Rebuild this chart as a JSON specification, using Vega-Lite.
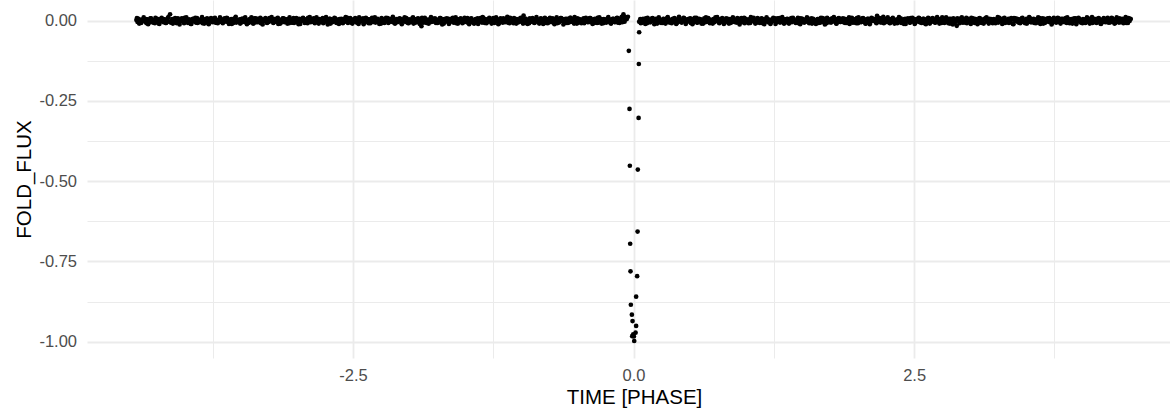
{
  "$schema": "https://vega.github.io/schema/vega-lite/v6.json",
  "width": 1083,
  "height": 358,
  "autosize": {"type": "none"},
  "padding": {"left": 87, "top": 0, "right": 0, "bottom": 52},
  "background": "white",
  "data": {
    "format": {"type": "csv", "parse": {"t": "number", "f": "number"}},
    "values": "t,f\n-4.43,0.002\n-4.42,-0.004\n-4.41,0.006\n-4.4,-0.001\n-4.39,-0.007\n-4.38,0.003\n-4.37,0\n-4.36,0.005\n-4.35,-0.003\n-4.34,-0.008\n-4.33,0.004\n-4.32,0.001\n-4.31,-0.005\n-4.3,0.007\n-4.29,-0.002\n-4.28,-0.006\n-4.27,0.002\n-4.26,0.009\n-4.25,-0.004\n-4.24,0\n-4.23,-0.009\n-4.22,0.003\n-4.21,0.006\n-4.2,-0.001\n-4.19,-0.005\n-4.18,0.004\n-4.17,-0.007\n-4.16,0.001\n-4.15,0.008\n-4.14,-0.003\n-4.13,0.02\n-4.12,-0.002\n-4.11,0.005\n-4.1,-0.006\n-4.09,0\n-4.08,0.003\n-4.07,-0.008\n-4.06,0.007\n-4.05,-0.004\n-4.04,0.002\n-4.03,-0.001\n-4.02,0.006\n-4.01,-0.005\n-4,0.009\n-3.99,-0.003\n-3.98,0.001\n-3.97,-0.007\n-3.96,0.004\n-3.95,0\n-3.94,-0.01\n-3.93,0.005\n-3.92,-0.002\n-3.91,0.003\n-3.9,-0.006\n-3.89,0.008\n-3.88,-0.001\n-3.87,-0.004\n-3.86,0.002\n-3.85,0.006\n-3.84,-0.008\n-3.83,0\n-3.82,0.004\n-3.81,-0.003\n-3.8,0.007\n-3.79,-0.009\n-3.78,0.001\n-3.77,0.005\n-3.76,-0.002\n-3.75,-0.005\n-3.74,0.003\n-3.73,0.009\n-3.72,-0.006\n-3.71,0\n-3.7,0.002\n-3.69,-0.004\n-3.68,0.006\n-3.67,-0.001\n-3.66,-0.008\n-3.65,0.004\n-3.64,0.001\n-3.63,-0.003\n-3.62,0.007\n-3.61,-0.005\n-3.6,0\n-3.59,0.003\n-3.58,-0.01\n-3.57,0.005\n-3.56,-0.002\n-3.55,0.008\n-3.54,-0.006\n-3.53,0.002\n-3.52,-0.001\n-3.51,0.004\n-3.5,-0.007\n-3.49,0.006\n-3.48,0\n-3.47,-0.004\n-3.46,0.01\n-3.45,-0.003\n-3.44,0.001\n-3.43,-0.006\n-3.42,0.005\n-3.41,-0.002\n-3.4,0.003\n-3.39,-0.009\n-3.38,0.007\n-3.37,0\n-3.36,-0.005\n-3.35,0.002\n-3.34,0.006\n-3.33,-0.003\n-3.32,-0.008\n-3.31,0.004\n-3.3,0.001\n-3.29,-0.001\n-3.28,0.008\n-3.27,-0.006\n-3.26,0.003\n-3.25,-0.004\n-3.24,0\n-3.23,0.006\n-3.22,-0.002\n-3.21,-0.007\n-3.2,0.005\n-3.19,0.001\n-3.18,-0.004\n-3.17,0.009\n-3.16,-0.001\n-3.15,-0.009\n-3.14,0.003\n-3.13,0\n-3.12,0.007\n-3.11,-0.005\n-3.1,0.002\n-3.09,-0.003\n-3.08,0.005\n-3.07,-0.008\n-3.06,0.004\n-3.05,0.001\n-3.04,-0.006\n-3.03,0.008\n-3.02,-0.002\n-3.01,0.003\n-3,-0.004\n-2.99,0\n-2.98,0.006\n-2.97,-0.01\n-2.96,0.002\n-2.95,0.005\n-2.94,-0.001\n-2.93,-0.007\n-2.92,0.004\n-2.91,-0.003\n-2.9,0.009\n-2.89,0.001\n-2.88,-0.005\n-2.87,0.002\n-2.86,-0.002\n-2.85,0.007\n-2.84,-0.008\n-2.83,0.003\n-2.82,0\n-2.81,-0.006\n-2.8,0.005\n-2.79,-0.001\n-2.78,-0.004\n-2.77,0.008\n-2.76,-0.003\n-2.75,0.002\n-2.74,0.011\n-2.73,-0.005\n-2.72,0.001\n-2.71,0.006\n-2.7,-0.009\n-2.69,0.004\n-2.68,-0.002\n-2.67,0\n-2.66,0.007\n-2.65,-0.006\n-2.64,0.003\n-2.63,-0.001\n-2.62,0.005\n-2.61,-0.004\n-2.6,0.002\n-2.59,-0.008\n-2.58,0.006\n-2.57,0.001\n-2.56,-0.003\n-2.55,0.009\n-2.54,-0.005\n-2.53,0\n-2.52,0.004\n-2.51,-0.007\n-2.5,0.003\n-2.49,-0.002\n-2.48,0.008\n-2.47,-0.005\n-2.46,0.001\n-2.45,-0.01\n-2.44,0.006\n-2.43,-0.003\n-2.42,0.002\n-2.41,0.007\n-2.4,-0.006\n-2.39,0\n-2.38,-0.001\n-2.37,0.005\n-2.36,-0.008\n-2.35,0.004\n-2.34,-0.002\n-2.33,0.009\n-2.32,-0.004\n-2.31,0.001\n-2.3,-0.006\n-2.29,0.003\n-2.28,0.006\n-2.27,-0.003\n-2.26,0\n-2.25,-0.009\n-2.24,0.005\n-2.23,0.002\n-2.22,-0.007\n-2.21,0.004\n-2.2,-0.001\n-2.19,0.008\n-2.18,-0.005\n-2.17,-0.002\n-2.16,0.003\n-2.15,-0.004\n-2.14,0.007\n-2.13,-0.008\n-2.12,0.001\n-2.11,0.005\n-2.1,-0.003\n-2.09,0\n-2.08,0.006\n-2.07,-0.006\n-2.06,0.002\n-2.05,-0.001\n-2.04,0.01\n-2.03,-0.004\n-2.02,0.003\n-2.01,-0.007\n-2,0.004\n-1.99,0.001\n-1.98,-0.002\n-1.97,0.008\n-1.96,-0.009\n-1.95,0.005\n-1.94,0\n-1.93,-0.005\n-1.92,0.007\n-1.91,0.002\n-1.9,-0.003\n-1.89,-0.017\n-1.88,0.004\n-1.87,-0.006\n-1.86,0.009\n-1.85,-0.001\n-1.84,0.003\n-1.83,-0.008\n-1.82,0\n-1.81,0.006\n-1.8,-0.004\n-1.79,0.002\n-1.78,-0.002\n-1.77,0.007\n-1.76,-0.007\n-1.75,0.003\n-1.74,0.001\n-1.73,-0.005\n-1.72,0.008\n-1.71,-0.001\n-1.7,0.004\n-1.69,-0.009\n-1.68,0.005\n-1.67,0\n-1.66,-0.003\n-1.65,0.006\n-1.64,-0.006\n-1.63,0.002\n-1.62,-0.002\n-1.61,0.009\n-1.6,-0.005\n-1.59,0.001\n-1.58,-0.008\n-1.57,0.004\n-1.56,0.003\n-1.55,-0.004\n-1.54,0.007\n-1.53,-0.001\n-1.52,-0.006\n-1.51,0.005\n-1.5,0\n-1.49,-0.003\n-1.48,0.008\n-1.47,-0.007\n-1.46,0.002\n-1.45,0.006\n-1.44,-0.004\n-1.43,0.001\n-1.42,-0.009\n-1.41,0.004\n-1.4,-0.002\n-1.39,0.007\n-1.38,-0.005\n-1.37,0.003\n-1.36,0\n-1.35,-0.006\n-1.34,0.009\n-1.33,-0.003\n-1.32,0.005\n-1.31,-0.008\n-1.3,0.001\n-1.29,0.006\n-1.28,-0.001\n-1.27,-0.004\n-1.26,0.002\n-1.25,0.008\n-1.24,-0.007\n-1.23,0\n-1.22,0.004\n-1.21,-0.002\n-1.2,-0.009\n-1.19,0.005\n-1.18,0.003\n-1.17,-0.005\n-1.16,0.007\n-1.15,-0.001\n-1.14,-0.003\n-1.13,0.006\n-1.12,-0.006\n-1.11,0.002\n-1.1,0.009\n-1.09,-0.004\n-1.08,0.001\n-1.07,-0.008\n-1.06,0.004\n-1.05,-0.002\n-1.04,0.005\n-1.03,-0.005\n-1.02,0\n-1.01,0.007\n-1,-0.003\n-0.99,0.003\n-0.98,0.016\n-0.97,-0.007\n-0.96,0.006\n-0.95,-0.001\n-0.94,0.002\n-0.93,-0.008\n-0.92,0.004\n-0.91,-0.003\n-0.9,0.008\n-0.89,0.001\n-0.88,-0.006\n-0.87,0.005\n-0.86,-0.002\n-0.85,0\n-0.84,-0.009\n-0.83,0.006\n-0.82,-0.004\n-0.81,0.003\n-0.8,-0.001\n-0.79,0.009\n-0.78,-0.007\n-0.77,0.002\n-0.76,0.005\n-0.75,-0.005\n-0.74,0\n-0.73,-0.002\n-0.72,0.007\n-0.71,-0.006\n-0.7,0.004\n-0.69,0.001\n-0.68,-0.008\n-0.67,0.003\n-0.66,-0.003\n-0.65,0.008\n-0.64,-0.001\n-0.63,0.005\n-0.62,-0.004\n-0.61,0\n-0.6,-0.007\n-0.59,0.006\n-0.58,0.002\n-0.57,-0.005\n-0.56,0.009\n-0.55,-0.002\n-0.54,0.004\n-0.53,-0.009\n-0.52,0.001\n-0.51,-0.003\n-0.5,0.007\n-0.49,-0.006\n-0.48,0.003\n-0.47,0\n-0.46,-0.001\n-0.45,0.005\n-0.44,-0.008\n-0.43,0.002\n-0.42,0.006\n-0.41,-0.004\n-0.4,-0.002\n-0.39,0.008\n-0.38,-0.005\n-0.37,0.004\n-0.36,0.001\n-0.35,-0.007\n-0.34,0.003\n-0.33,-0.001\n-0.32,0.009\n-0.31,-0.006\n-0.3,0\n-0.29,0.005\n-0.28,-0.003\n-0.27,-0.008\n-0.26,0.004\n-0.25,0.002\n-0.24,-0.005\n-0.23,0.007\n-0.22,-0.002\n-0.21,0.003\n-0.2,-0.009\n-0.19,0.001\n-0.18,0.006\n-0.17,-0.004\n-0.16,0\n-0.15,0.008\n-0.14,-0.006\n-0.13,0.004\n-0.12,-0.001\n-0.11,0.008\n-0.1,-0.005\n-0.09,0.02\n-0.08,-0.003\n-0.07,0.01\n-0.06,0.005\n-0.05,0.012\n-0.042,-0.094\n-0.036,-0.275\n-0.033,-0.452\n-0.03,-0.695\n-0.027,-0.781\n-0.024,-0.885\n-0.015,-0.916\n-0.012,-0.983\n-0.009,-0.936\n-0.003,-0.977\n0.003,-0.984\n0.006,-0.998\n0.018,-0.972\n0.023,-0.951\n0.023,-0.86\n0.032,-0.796\n0.036,-0.657\n0.038,-0.464\n0.045,-0.303\n0.047,-0.135\n0.05,-0.036\n0.05,-0.003\n0.06,0.005\n0.07,0.001\n0.08,-0.006\n0.09,0.004\n0.1,-0.002\n0.11,0.007\n0.12,-0.008\n0.13,0\n0.14,0.003\n0.15,-0.005\n0.16,0.002\n0.17,0.008\n0.18,-0.001\n0.19,-0.004\n0.2,0.006\n0.21,-0.009\n0.22,0.001\n0.23,0.004\n0.24,-0.003\n0.25,0\n0.26,-0.007\n0.27,0.005\n0.28,0.002\n0.29,-0.002\n0.3,0.009\n0.31,-0.005\n0.32,0.003\n0.33,-0.001\n0.34,-0.008\n0.35,0.006\n0.36,-0.004\n0.37,0.001\n0.38,-0.01\n0.39,0.004\n0.4,0\n0.41,0.007\n0.42,-0.003\n0.43,-0.006\n0.44,0.002\n0.45,0.008\n0.46,-0.001\n0.47,-0.005\n0.48,0.003\n0.49,-0.002\n0.5,0.006\n0.51,-0.007\n0.52,0\n0.53,0.005\n0.54,-0.004\n0.55,0.001\n0.56,0.009\n0.57,-0.006\n0.58,0.002\n0.59,-0.003\n0.6,0.004\n0.61,-0.001\n0.62,-0.009\n0.63,0.007\n0.64,0\n0.65,-0.004\n0.66,0.003\n0.67,0.006\n0.68,-0.008\n0.69,0.001\n0.7,-0.002\n0.71,0.005\n0.72,-0.005\n0.73,0.01\n0.74,-0.001\n0.75,0.002\n0.76,-0.006\n0.77,0.004\n0.78,-0.003\n0.79,0.008\n0.8,0\n0.81,-0.007\n0.82,0.003\n0.83,-0.002\n0.84,0.006\n0.85,-0.009\n0.86,0.005\n0.87,0.001\n0.88,-0.004\n0.89,0.007\n0.9,-0.001\n0.91,0.002\n0.92,-0.006\n0.93,0\n0.94,0.004\n0.95,-0.003\n0.96,0.008\n0.97,-0.005\n0.98,0.002\n0.99,-0.008\n1,0.006\n1.01,0\n1.02,-0.002\n1.03,0.004\n1.04,-0.007\n1.05,0.003\n1.06,-0.001\n1.07,0.009\n1.08,-0.004\n1.09,0.001\n1.1,-0.006\n1.11,0.005\n1.12,0.002\n1.13,-0.003\n1.14,0.007\n1.15,-0.008\n1.16,0\n1.17,0.004\n1.18,-0.002\n1.19,0.006\n1.2,-0.005\n1.21,0.003\n1.22,-0.01\n1.23,0.001\n1.24,0.005\n1.25,-0.001\n1.26,0.007\n1.27,-0.006\n1.28,0.002\n1.29,-0.003\n1.3,0.008\n1.31,0\n1.32,-0.004\n1.33,0.005\n1.34,-0.009\n1.35,0.004\n1.36,-0.002\n1.37,0.006\n1.38,-0.007\n1.39,0.001\n1.4,0.003\n1.41,-0.005\n1.42,0.009\n1.43,-0.001\n1.44,-0.003\n1.45,0\n1.46,0.005\n1.47,-0.008\n1.48,0.002\n1.49,0.007\n1.5,-0.004\n1.51,0.001\n1.52,-0.006\n1.53,0.003\n1.54,-0.002\n1.55,0.008\n1.56,-0.005\n1.57,0\n1.58,0.004\n1.59,-0.009\n1.6,0.006\n1.61,-0.001\n1.62,0.002\n1.63,-0.003\n1.64,0.005\n1.65,-0.007\n1.66,0.001\n1.67,0.009\n1.68,-0.004\n1.69,0.003\n1.7,-0.002\n1.71,0.006\n1.72,-0.008\n1.73,0\n1.74,0.004\n1.75,-0.001\n1.76,-0.006\n1.77,0.007\n1.78,0.002\n1.79,-0.003\n1.8,0.005\n1.81,-0.009\n1.82,0.001\n1.83,0.008\n1.84,-0.004\n1.85,0.003\n1.86,0\n1.87,-0.005\n1.88,0.006\n1.89,-0.002\n1.9,-0.007\n1.91,0.004\n1.92,0.01\n1.93,-0.003\n1.94,0.001\n1.95,-0.006\n1.96,0.005\n1.97,0.002\n1.98,-0.001\n1.99,0.008\n2,-0.008\n2.01,0.003\n2.02,0\n2.03,-0.004\n2.04,0.007\n2.05,-0.002\n2.06,0.004\n2.07,-0.009\n2.08,0.001\n2.09,0.006\n2.1,-0.003\n2.11,-0.005\n2.12,0.009\n2.13,0.002\n2.14,-0.001\n2.15,0.005\n2.16,-0.006\n2.17,0.015\n2.18,0\n2.19,-0.004\n2.2,0.007\n2.21,-0.002\n2.22,0.003\n2.23,-0.008\n2.24,0.001\n2.25,0.006\n2.26,-0.003\n2.27,0.002\n2.28,-0.007\n2.29,0.004\n2.3,-0.001\n2.31,0.009\n2.32,-0.005\n2.33,0\n2.34,0.003\n2.35,-0.008\n2.36,0.005\n2.37,-0.002\n2.38,0.007\n2.39,0.001\n2.4,-0.004\n2.41,-0.01\n2.42,0.006\n2.43,-0.001\n2.44,0.002\n2.45,0.004\n2.46,-0.006\n2.47,0.008\n2.48,-0.003\n2.49,0\n2.5,0.005\n2.51,-0.007\n2.52,0.001\n2.53,-0.002\n2.54,0.009\n2.55,-0.005\n2.56,0.003\n2.57,-0.001\n2.58,0.006\n2.59,-0.008\n2.6,0.002\n2.61,0.004\n2.62,-0.004\n2.63,0.007\n2.64,-0.009\n2.65,0\n2.66,0.006\n2.67,-0.003\n2.68,0.001\n2.69,-0.006\n2.7,0.008\n2.71,-0.002\n2.72,0.005\n2.73,-0.005\n2.74,0.003\n2.75,0.01\n2.76,-0.001\n2.77,-0.007\n2.78,0.004\n2.79,0.002\n2.8,-0.004\n2.81,0.006\n2.82,-0.009\n2.83,0.001\n2.84,-0.002\n2.85,0.007\n2.86,-0.005\n2.87,0.003\n2.88,-0.016\n2.89,0\n2.9,0.005\n2.91,-0.003\n2.92,0.008\n2.93,-0.006\n2.94,0.002\n2.95,-0.001\n2.96,0.004\n2.97,-0.008\n2.98,0.006\n2.99,0.001\n3,-0.003\n3.01,0.009\n3.02,-0.004\n3.03,0.002\n3.04,-0.007\n3.05,0.005\n3.06,0\n3.07,-0.002\n3.08,0.007\n3.09,-0.006\n3.1,0.003\n3.11,-0.001\n3.12,-0.009\n3.13,0.004\n3.14,0.008\n3.15,-0.003\n3.16,0.002\n3.17,0.006\n3.18,-0.005\n3.19,0.001\n3.2,-0.008\n3.21,0.005\n3.22,-0.002\n3.23,0\n3.24,0.004\n3.25,-0.006\n3.26,0.009\n3.27,-0.001\n3.28,0.003\n3.29,-0.004\n3.3,0.007\n3.31,-0.007\n3.32,0.002\n3.33,-0.003\n3.34,0.006\n3.35,0.001\n3.36,-0.005\n3.37,0.004\n3.38,-0.01\n3.39,0.008\n3.4,0\n3.41,-0.002\n3.42,0.005\n3.43,-0.006\n3.44,0.003\n3.45,-0.001\n3.46,0.007\n3.47,-0.004\n3.48,0.002\n3.49,-0.008\n3.5,0.006\n3.51,0.001\n3.52,-0.003\n3.53,0.009\n3.54,-0.005\n3.55,0\n3.56,0.004\n3.57,-0.007\n3.58,0.003\n3.59,-0.002\n3.6,0.005\n3.61,-0.006\n3.62,0.008\n3.63,-0.001\n3.64,0.002\n3.65,-0.009\n3.66,0.006\n3.67,-0.003\n3.68,0.001\n3.69,0.007\n3.7,-0.004\n3.71,0\n3.72,0.004\n3.73,-0.008\n3.74,0.005\n3.75,-0.002\n3.76,0.003\n3.77,-0.005\n3.78,0.009\n3.79,-0.001\n3.8,-0.006\n3.81,0.006\n3.82,0.002\n3.83,-0.004\n3.84,0.001\n3.85,0.008\n3.86,-0.007\n3.87,0\n3.88,0.004\n3.89,-0.003\n3.9,0.005\n3.91,-0.009\n3.92,0.003\n3.93,-0.001\n3.94,0.007\n3.95,-0.005\n3.96,0.002\n3.97,0.006\n3.98,-0.002\n3.99,0.001\n4,-0.008\n4.01,0.004\n4.02,0\n4.03,-0.006\n4.04,0.01\n4.05,-0.003\n4.06,0.005\n4.07,-0.001\n4.08,0.007\n4.09,-0.007\n4.1,0.003\n4.11,-0.004\n4.12,0.001\n4.13,0.006\n4.14,-0.002\n4.15,0.004\n4.16,-0.009\n4.17,0.002\n4.18,-0.005\n4.19,0.008\n4.2,0\n4.21,-0.003\n4.22,0.006\n4.23,-0.006\n4.24,0.001\n4.25,-0.001\n4.26,0.009\n4.27,-0.004\n4.28,0.003\n4.29,-0.008\n4.3,0.005\n4.31,0.002\n4.32,-0.002\n4.33,0.007\n4.34,-0.005\n4.35,0\n4.36,0.006\n4.37,-0.003\n4.38,0.004\n4.39,-0.007\n4.4,0.002\n4.41,0.008\n4.42,-0.001\n4.43,0.005\n-4.425,0.008\n-4.405,-0.009\n-4.385,-0.006\n-4.365,0.01\n-4.345,0.005\n-4.325,-0.011\n-4.305,0.007\n-4.285,-0.005\n-4.265,-0.008\n-4.245,0.006\n-4.225,-0.01\n-4.205,0.009\n-4.185,0.004\n-4.165,-0.007\n-4.145,0.011\n-4.125,-0.006\n-4.105,-0.009\n-4.085,0.008\n-4.065,0.005\n-4.045,-0.012\n-4.025,0.007\n-4.005,-0.008\n-3.985,0.01\n-3.965,-0.005\n-3.945,-0.01\n-3.925,0.006\n-3.905,0.009\n-3.885,-0.007\n-3.865,-0.004\n-3.845,0.011\n-3.825,-0.009\n-3.805,0.005\n-3.785,-0.011\n-3.765,0.008\n-3.745,0.006\n-3.725,-0.006\n-3.705,-0.008\n-3.685,0.01\n-3.665,-0.005\n-3.645,0.007\n-3.625,0.009\n-3.605,-0.01\n-3.585,0.005\n-3.565,-0.007\n-3.545,0.012\n-3.525,-0.004\n-3.505,-0.009\n-3.485,0.006\n-3.465,0.008\n-3.445,-0.011\n-3.425,-0.006\n-3.405,0.01\n-3.385,-0.008\n-3.365,0.007\n-3.345,-0.005\n-3.325,0.009\n-3.305,-0.012\n-3.285,0.004\n-3.265,-0.007\n-3.245,0.008\n-3.225,0.011\n-3.205,-0.005\n-3.185,0.006\n-3.165,-0.01\n-3.145,-0.008\n-3.125,0.007\n-3.105,0.005\n-3.085,-0.009\n-3.065,0.01\n-3.045,-0.006\n-3.025,-0.007\n-3.005,0.008\n-2.985,-0.011\n-2.965,0.005\n-2.945,0.009\n-2.925,-0.006\n-2.905,-0.008\n-2.885,0.011\n-2.865,-0.004\n-2.845,0.006\n-2.825,0.01\n-2.805,-0.009\n-2.785,0.004\n-2.765,-0.008\n-2.745,0.007\n-2.725,-0.012\n-2.705,0.006\n-2.685,-0.005\n-2.665,0.009\n-2.645,-0.007\n-2.625,-0.01\n-2.605,0.006\n-2.585,-0.005\n-2.565,0.011\n-2.545,-0.007\n-2.525,0.008\n-2.505,-0.009\n-2.485,0.005\n-2.465,-0.006\n-2.445,0.01\n-2.425,0.005\n-2.405,-0.011\n-2.385,0.009\n-2.365,-0.006\n-2.345,-0.008\n-2.325,0.007\n-2.305,0.01\n-2.285,-0.004\n-2.265,-0.01\n-2.245,0.008\n-2.225,-0.006\n-2.205,0.009\n-2.185,-0.007\n-2.165,0.005\n-2.145,0.012\n-2.125,-0.009\n-2.105,-0.005\n-2.085,0.007\n-2.065,-0.011\n-2.045,0.006\n-2.025,0.008\n-2.005,-0.008\n-1.985,-0.005\n-1.965,0.01\n-1.945,-0.006\n-1.925,0.006\n-1.905,-0.01\n-1.885,0.009\n-1.865,0.004\n-1.845,-0.007\n-1.825,-0.009\n-1.805,0.011\n-1.785,0.006\n-1.765,-0.005\n-1.745,-0.007\n-1.725,0.008\n-1.705,-0.012\n-1.685,0.005\n-1.665,0.007\n-1.645,-0.01\n-1.625,0.006\n-1.605,-0.006\n-1.585,0.01\n-1.565,-0.009\n-1.545,0.005\n-1.525,-0.008\n-1.505,0.009\n-1.485,-0.005\n-1.465,-0.011\n-1.445,0.007\n-1.425,-0.008\n-1.405,0.005\n-1.385,-0.01\n-1.365,0.008\n-1.345,0.011\n-1.325,-0.007\n-1.305,-0.004\n-1.285,0.009\n-1.265,-0.009\n-1.245,0.006\n-1.225,0.01\n-1.205,-0.011\n-1.185,0.007\n-1.165,-0.006\n-1.145,-0.005\n-1.125,0.012\n-1.105,-0.008\n-1.085,0.005\n-1.065,0.008\n-1.045,-0.009\n-1.025,-0.005\n-1.005,0.009\n-0.985,-0.009\n-0.965,0.006\n-0.945,-0.01\n-0.925,0.007\n-0.905,0.004\n-0.885,-0.007\n-0.865,0.011\n-0.845,-0.006\n-0.825,0.007\n-0.805,-0.01\n-0.785,0.005\n-0.765,-0.008\n-0.745,0.009\n-0.725,-0.005\n-0.705,-0.011\n-0.685,0.01\n-0.665,-0.006\n-0.645,0.008\n-0.625,-0.012\n-0.605,0.006\n-0.585,-0.007\n-0.565,0.009\n-0.545,-0.004\n-0.525,0.011\n-0.505,-0.009\n-0.485,0.005\n-0.465,-0.008\n-0.445,0.007\n-0.425,0.009\n-0.405,-0.005\n-0.385,0.008\n-0.365,-0.01\n-0.345,0.006\n-0.325,-0.007\n-0.305,0.01\n-0.285,-0.009\n-0.265,0.005\n-0.245,-0.006\n-0.225,0.011\n-0.205,-0.008\n-0.185,0.006\n-0.165,-0.005\n-0.145,0.009\n-0.125,-0.007\n-0.105,0.012\n-0.085,0.008\n-0.065,0.01\n0.065,-0.008\n0.085,0.006\n0.105,-0.01\n0.125,0.009\n0.145,-0.005\n0.165,0.007\n0.185,-0.011\n0.205,0.005\n0.225,0.01\n0.245,-0.007\n0.265,0.006\n0.285,-0.009\n0.305,0.011\n0.325,-0.006\n0.345,-0.004\n0.365,0.008\n0.385,-0.008\n0.405,0.012\n0.425,-0.005\n0.445,0.009\n0.465,-0.01\n0.485,0.005\n0.505,0.007\n0.525,-0.011\n0.545,0.009\n0.565,-0.006\n0.585,0.006\n0.605,-0.009\n0.625,-0.007\n0.645,0.01\n0.665,0.008\n0.685,-0.005\n0.705,-0.009\n0.725,0.006\n0.745,0.011\n0.765,-0.008\n0.785,0.005\n0.805,-0.01\n0.825,0.007\n0.845,-0.006\n0.865,-0.007\n0.885,0.01\n0.905,-0.005\n0.925,0.008\n0.945,-0.012\n0.965,0.006\n0.985,0.009\n1.005,-0.004\n1.025,-0.008\n1.045,0.011\n1.065,0.005\n1.085,-0.009\n1.105,0.008\n1.125,-0.007\n1.145,0.006\n1.165,-0.011\n1.185,0.01\n1.205,-0.005\n1.225,-0.006\n1.245,0.009\n1.265,-0.01\n1.285,0.007\n1.305,-0.006\n1.325,0.011\n1.345,-0.008\n1.365,0.005\n1.385,-0.009\n1.405,0.008\n1.425,0.004\n1.445,-0.007\n1.465,0.009\n1.485,-0.011\n1.505,0.006\n1.525,-0.005\n1.545,0.01\n1.565,-0.008\n1.585,0.007\n1.605,-0.006\n1.625,-0.01\n1.645,0.005\n1.665,-0.006\n1.685,0.008\n1.705,-0.012\n1.725,0.009\n1.745,-0.005\n1.765,0.006\n1.785,0.011\n1.805,-0.009\n1.825,0.007\n1.845,-0.004\n1.865,0.007\n1.885,-0.007\n1.905,0.005\n1.925,-0.01\n1.945,0.009\n1.965,-0.006\n1.985,-0.008\n2.005,0.01\n2.025,-0.005\n2.045,0.008\n2.065,-0.009\n2.085,0.006\n2.105,-0.011\n2.125,0.007\n2.145,0.005\n2.165,-0.008\n2.185,0.009\n2.205,-0.006\n2.225,0.012\n2.245,-0.005\n2.265,0.01\n2.285,-0.008\n2.305,0.006\n2.325,-0.009\n2.345,-0.005\n2.365,0.011\n2.385,-0.007\n2.405,0.004\n2.425,-0.01\n2.445,0.007\n2.465,-0.006\n2.485,0.009\n2.505,-0.01\n2.525,0.005\n2.545,0.008\n2.565,-0.007\n2.585,0.006\n2.605,-0.011\n2.625,0.009\n2.645,-0.005\n2.665,0.008\n2.685,-0.006\n2.705,0.011\n2.725,-0.009\n2.745,-0.007\n2.765,0.005\n2.785,0.01\n2.805,-0.008\n2.825,0.006\n2.845,-0.012\n2.865,-0.005\n2.885,0.007\n2.905,-0.008\n2.925,0.01\n2.945,-0.006\n2.965,0.009\n2.985,-0.004\n3.005,-0.01\n3.025,0.007\n3.045,0.005\n3.065,-0.011\n3.085,0.008\n3.105,-0.007\n3.125,0.006\n3.145,0.01\n3.165,-0.009\n3.185,0.005\n3.205,-0.006\n3.225,-0.008\n3.245,0.011\n3.265,0.006\n3.285,-0.01\n3.305,0.009\n3.325,-0.005\n3.345,-0.007\n3.365,0.008\n3.385,-0.011\n3.405,0.007\n3.425,0.005\n3.445,-0.008\n3.465,0.009\n3.485,-0.006\n3.505,-0.009\n3.525,0.011\n3.545,-0.005\n3.565,0.006\n3.585,-0.008\n3.605,0.01\n3.625,-0.01\n3.645,0.007\n3.665,-0.007\n3.685,0.005\n3.705,0.008\n3.725,-0.012\n3.745,0.009\n3.765,-0.006\n3.785,0.007\n3.805,-0.009\n3.825,0.006\n3.845,-0.005\n3.865,0.01\n3.885,-0.008\n3.905,-0.005\n3.925,0.007\n3.945,-0.011\n3.965,0.009\n3.985,-0.006\n4.005,0.005\n4.025,-0.007\n4.045,0.008\n4.065,-0.009\n4.085,0.011\n4.105,0.006\n4.125,-0.007\n4.145,0.008\n4.165,-0.01\n4.185,0.005\n4.205,-0.005\n4.225,0.009\n4.245,-0.006\n4.265,0.007\n4.285,-0.009\n4.305,0.01\n4.325,-0.006\n4.345,0.005\n4.365,-0.008\n4.385,0.011\n4.405,-0.007\n4.425,0.006"
  },
  "mark": {"type": "point", "filled": true, "size": 22, "color": "#000000", "opacity": 1, "strokeWidth": 0},
  "encoding": {
    "x": {
      "field": "t",
      "type": "quantitative",
      "scale": {"domain": [-4.87, 4.78], "nice": false, "zero": false},
      "axis": {
        "title": "TIME [PHASE]",
        "titleX": 547,
        "values": [-3.75, -2.5, -1.25, 0, 1.25, 2.5, 3.75],
        "labelExpr": "datum.value % 2.5 === 0 ? replace(format(datum.value, '.1f'), '\u2212', '-') : ''",
        "gridWidth": {"condition": {"test": "datum.value % 2.5 !== 0", "value": 1}, "value": 1.8},
        "labelPadding": 9.5,
        "titlePadding": 3
      }
    },
    "y": {
      "field": "f",
      "type": "quantitative",
      "scale": {"domain": [-1.051, 0.0644], "nice": false, "zero": false},
      "axis": {
        "title": "FOLD_FLUX",
        "values": [-1, -0.875, -0.75, -0.625, -0.5, -0.375, -0.25, -0.125, 0],
        "labelExpr": "datum.value % 0.25 === 0 ? replace(format(datum.value, '.2f'), '\u2212', '-') : ''",
        "gridWidth": {"condition": {"test": "datum.value % 0.25 !== 0", "value": 1}, "value": 1.8},
        "labelPadding": 10.5,
        "titlePadding": 4
      }
    }
  },
  "config": {
    "view": {"stroke": null},
    "font": "Liberation Sans",
    "axis": {
      "domain": false,
      "ticks": false,
      "tickSize": 0,
      "grid": true,
      "gridColor": "#EBEBEB",
      "labelColor": "#4D4D4D",
      "labelFont": "Liberation Sans",
      "labelFontSize": 16.5,
      "labelOverlap": false,
      "labelFlush": false,
      "titleFont": "Liberation Sans",
      "titleFontSize": 20.5,
      "titleFontWeight": "normal",
      "titleColor": "#000000"
    }
  }
}
